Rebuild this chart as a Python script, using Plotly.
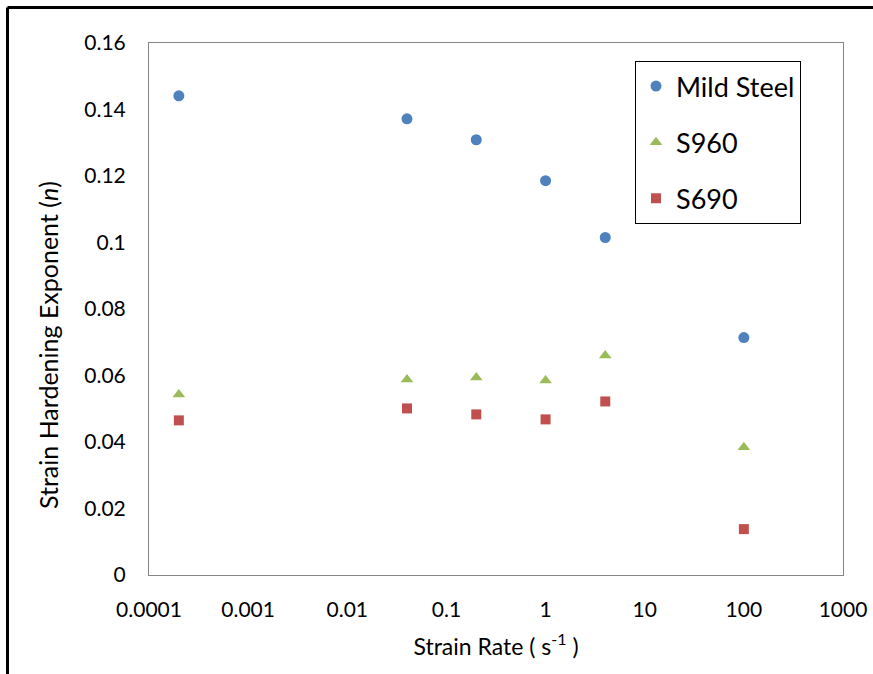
import plotly.graph_objects as go

strain_rate = [0.0002, 0.04, 0.2, 1, 4, 100]
mild_steel = [0.1441, 0.1372, 0.1309, 0.1186, 0.1015, 0.0714]
s960 = [0.0543, 0.0588, 0.0594, 0.0585, 0.0660, 0.0384]
s690 = [0.0465, 0.0501, 0.0483, 0.0468, 0.0522, 0.0138]

x_tickvals = [0.0001, 0.001, 0.01, 0.1, 1, 10, 100, 1000]
x_ticktext = ["0.0001", "0.001", "0.01", "0.1", "1", "10", "100", "1000"]
y_tickvals = [0, 0.02, 0.04, 0.06, 0.08, 0.1, 0.12, 0.14, 0.16]
y_ticktext = ["0", "0.02", "0.04", "0.06", "0.08", "0.1", "0.12", "0.14", "0.16"]

FONT = "Lato, 'Open Sans', sans-serif"

fig = go.Figure()
fig.add_trace(go.Scatter(x=strain_rate, y=mild_steel, mode="markers", name="Mild Steel",
                         legendgroup="a",
                         marker=dict(symbol="circle", size=11, color="#4F81BD")))
fig.add_trace(go.Scatter(x=strain_rate, y=s960, mode="markers", name="S960",
                         legendgroup="b",
                         marker=dict(symbol="triangle-up", size=11, color="#9BBB59")))
fig.add_trace(go.Scatter(x=strain_rate, y=s690, mode="markers", name="S690",
                         legendgroup="c",
                         marker=dict(symbol="square", size=10, color="#C0504D")))

# body margin is removed in the page, so the figure fills the 873x674 window
W, H = 873, 674
PL, PR, PT, PB = 149, 843, 43, 575  # plot area in page pixels
L, R, T, B = PL, W - PR, PT, H - PB
pw, ph = PR - PL, PB - PT


def px(x):
    return (x - PL) / pw


def py(y):
    return (PB - y) / ph


fig.update_layout(
    width=W, height=H,
    margin=dict(l=L, r=R, t=T, b=B, autoexpand=False),
    paper_bgcolor="white", plot_bgcolor="white",
    font=dict(family=FONT, color="#000000"),
    showlegend=True,
    legend=dict(
        x=px(635), y=py(61), xanchor="left", yanchor="top",
        bordercolor="#000000", borderwidth=1, bgcolor="white",
        font=dict(size=27, family=FONT),
        tracegroupgap=18,
    ),
    xaxis=dict(
        type="log", range=[-4, 3],
        tickvals=x_tickvals, ticktext=x_ticktext,
        showgrid=False, zeroline=False, automargin=False,
        showline=True, linecolor="#868686", linewidth=1, mirror=True,
        ticks="", ticklabelstandoff=16, ticklabeloverflow="allow",
        tickfont=dict(size=21, family=FONT),
        title=dict(text="Strain Rate ( s<sup>-1</sup> )", font=dict(size=23, family=FONT), standoff=18),
    ),
    yaxis=dict(
        range=[0, 0.16],
        tickvals=y_tickvals, ticktext=y_ticktext,
        showgrid=False, zeroline=False, automargin=False,
        showline=True, linecolor="#868686", linewidth=1, mirror=True,
        ticks="", ticklabelstandoff=18,
        tickfont=dict(size=21, family=FONT),
    ),
    annotations=[
        dict(text="Strain Hardening Exponent (<i>n</i>)", xref="paper", yref="paper",
             x=px(48), y=py(345), xanchor="center", yanchor="middle", textangle=-90,
             showarrow=False, font=dict(size=25, family=FONT)),
    ],
    shapes=[
        dict(type="line", xref="paper", yref="paper", x0=px(7.5), x1=px(W + 5), y0=py(7.5), y1=py(7.5),
             line=dict(color="#000000", width=3)),
        dict(type="line", xref="paper", yref="paper", x0=px(7.5), x1=px(7.5), y0=py(7.5), y1=py(H + 5),
             line=dict(color="#000000", width=3)),
    ],
)

fig.write_html("out.html",
               config={"displayModeBar": False},
               post_script="document.body.style.margin='0';document.body.style.overflow='hidden';")
